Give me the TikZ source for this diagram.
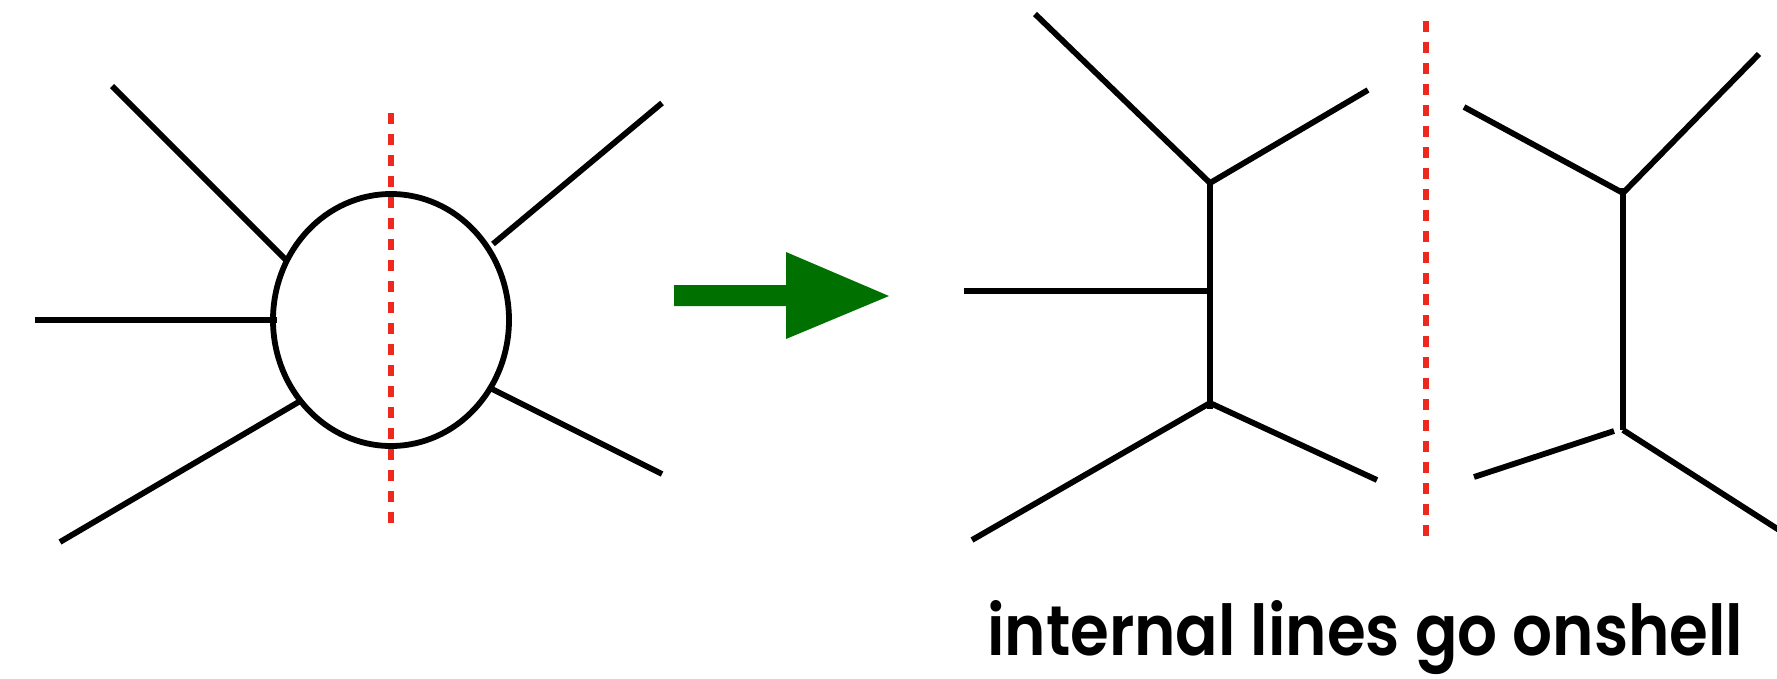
\documentclass[tikz,border=0pt]{standalone}
\usepackage{fontspec}
\usetikzlibrary{shapes.geometric}
\newfontfamily\labelfont{Poppins SemiBold}
\definecolor{cutred}{RGB}{238,40,28}
\definecolor{arrowgreen}{RGB}{0,112,0}
\tikzset{
  leg/.style={line width=5.8pt, black},
  cut/.style={line width=5.5pt, cutred, dash pattern=on 11pt off 10pt},
}
\begin{document}
\begin{tikzpicture}[x=1pt,y=-1pt]
\useasboundingbox (0,0) rectangle (1777,678);
% ---------- left: blob ----------
\node[draw, line width=5.8pt, ellipse, minimum width=236pt, minimum height=252pt, inner sep=0pt] (blob) at (391,320) {};
\coordinate (a1) at (112,86);   \coordinate (a1e) at (287,261);
\coordinate (a2) at (35,320);   \coordinate (a2e) at (277,320);
\coordinate (a3) at (60,542);   \coordinate (a3e) at (302,400);
\coordinate (a4) at (662,103);  \coordinate (a4e) at (493,244);
\coordinate (a5) at (662,474);  \coordinate (a5e) at (492,389);
\draw[leg] (a1) -- (a1e);
\draw[leg] (a2) -- (a2e);
\draw[leg] (a3) -- (a3e);
\draw[leg] (a4) -- (a4e);
\draw[leg] (a5) -- (a5e);
\coordinate (c1t) at (391,113); \coordinate (c1b) at (391,529);
\draw[cut] (c1t) -- (c1b);
% ---------- arrow ----------
\fill[arrowgreen] (674,285) -- (786,285) -- (786,252) -- (889,296) -- (786,339) -- (786,306) -- (674,306) -- cycle;
% ---------- right: first tree ----------
\coordinate (v1) at (1210,183);
\coordinate (v2) at (1210,291);
\coordinate (v3) at (1210,403);
\coordinate (b1) at (1035,14);
\coordinate (b2) at (1368,90);
\coordinate (b3) at (964,291);
\coordinate (b4) at (972,540);
\coordinate (b5) at (1377,480);
\draw[leg] (b1) -- (v1);
\draw[leg] (v1) -- (b2);
\draw[leg] (1210,180) -- (1210,409);
\draw[leg] (b3) -- (v2);
\draw[leg] (b4) -- (v3);
\draw[leg] (v3) -- (b5);
\coordinate (c2t) at (1426,21); \coordinate (c2b) at (1426,545);
\draw[cut] (c2t) -- (c2b);
% ---------- right: second tree ----------
\coordinate (w1) at (1623,193);
\coordinate (w2) at (1623,430);
\coordinate (d1) at (1464,107);
\coordinate (d2) at (1759,54);
\coordinate (d3) at (1474,477);
\coordinate (d4) at (1614,431);
\coordinate (d5) at (1790,537);
\draw[leg] (d1) -- (w1);
\draw[leg] (w1) -- (d2);
\draw[leg] (1623,188) -- (w2);
\draw[leg] (d3) -- (d4);
\draw[leg] (w2) -- (d5);
% ---------- label ----------
\node[anchor=base west, inner sep=0pt] (lbl) at (987,655) {\resizebox{756pt}{55pt}{\labelfont internal lines go onshell}};
\end{tikzpicture}
\end{document}
